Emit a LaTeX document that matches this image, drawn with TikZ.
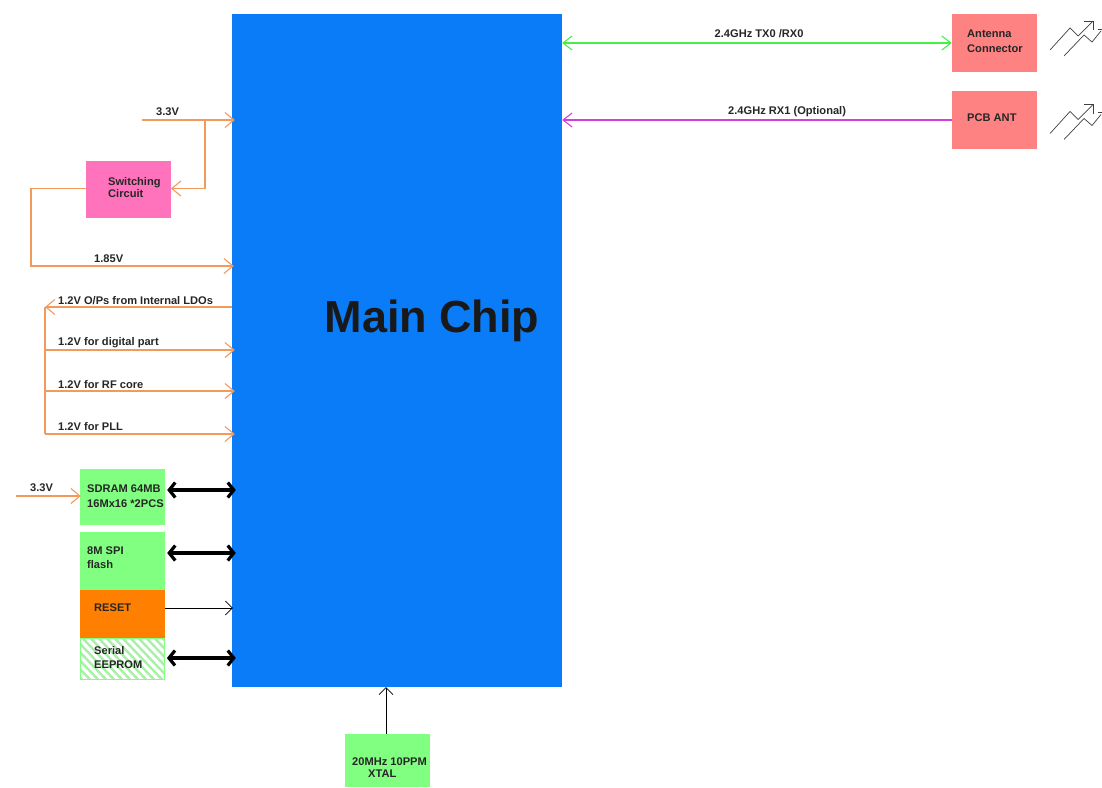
\documentclass[tikz,border=0pt]{standalone}
\usepackage{fontspec}
\setmainfont{Liberation Sans}
\usetikzlibrary{arrows.meta,calc}
\definecolor{chipblue}{HTML}{0A7CF8}
\definecolor{wireorange}{HTML}{F29A5C}
\definecolor{boxgreen}{HTML}{80FF80}
\definecolor{boxsalmon}{HTML}{FF8282}
\definecolor{boxpink}{HTML}{FF72BC}
\definecolor{boxorange}{HTML}{FF8000}
\definecolor{wiregreen}{HTML}{44F044}
\definecolor{wiremagenta}{HTML}{D23FE0}
\definecolor{hatchgreen}{HTML}{A8F0A8}
\tikzset{
  x=1pt,y=-1pt,
  lab/.style={inner sep=0pt,font=\fontsize{11.1}{12}\selectfont\bfseries,text=black!85,align=left,anchor=west},
  lab wide/.style={lab,font=\fontsize{11.1}{14.5}\selectfont\bfseries},
  wire/.style={draw=wireorange,line width=1.3pt},
  barb/.style={-{Straight Barb[length=9pt,width=15pt,line width=1.1pt]}},
  bus/.style={draw=black,line width=3.8pt,{Straight Barb[length=6pt,width=15pt,line width=3.2pt]}-{Straight Barb[length=6pt,width=15pt,line width=3.2pt]}},
  thin wire/.style={draw=black,line width=1pt,-{Straight Barb[length=7pt,width=14pt,line width=.7pt]}},
  radio/.style={wiregreen,line width=1.3pt},
}
\newcommand{\blockat}[6]{% name, x1, y1, x2, y2, fill
  \node[draw=none,fill=#6,inner sep=0pt,minimum width=#4pt-#2pt,minimum height=#5pt-#3pt] (#1) at ({(#2+#4)/2},{(#3+#5)/2}) {};
}
\begin{document}
\begin{tikzpicture}
\useasboundingbox (0,0) rectangle (1102,787);
% blocks
\blockat{main}{232}{14}{562}{687}{chipblue}
\blockat{antconn}{952}{14}{1037}{72}{boxsalmon}
\blockat{pcbant}{952}{91}{1037}{149}{boxsalmon}
\blockat{sw}{86}{161}{171}{218}{boxpink}
\blockat{sdram}{80}{469}{165}{525}{boxgreen}
\blockat{flash}{80}{532}{165}{590}{boxgreen}
\blockat{reset}{80}{590}{165}{638}{boxorange}
\node[draw=boxgreen,line width=.8pt,inner sep=0pt,minimum width=84pt,minimum height=41pt,
  path picture={\foreach \k in {-96,-88,...,60}{\draw[hatchgreen,line width=2.4pt] (\k,-21) -- (\k+40,21);}}] (eeprom) at (122.5,659) {};
\blockat{xtal}{345}{734}{430}{787}{boxgreen}
% free ends and junctions
\coordinate (vin) at (142,120);
\coordinate (vjoin) at (205,120);
\coordinate (swin) at (171,188.5);
\coordinate (swout) at (86,188.5);
\coordinate (lv) at (31,266);
\coordinate (ldo) at (45,307);
\coordinate (dig) at (45,350);
\coordinate (rf) at (45,391);
\coordinate (pll) at (45,434);
\coordinate (sdin) at (16,496);
\coordinate (rx) at (952,120);
% right side
\draw[radio,{Straight Barb[length=9pt,width=14pt,line width=1.1pt]}-{Straight Barb[length=9pt,width=14pt,line width=1.1pt]}] (main.east |- antconn.west) -- (antconn.west);
\draw[draw=wiremagenta,line width=1.3pt,-{Straight Barb[length=9pt,width=14pt,line width=1.1pt]}] (rx) -- (main.east |- rx);
% power wires
\draw[wire,barb] (vin) -- ([xshift=3pt]main.west |- vin);
\draw[wire,barb] (vjoin) |- (swin);
\draw[wire,barb] (swout) -| (lv) -- ([xshift=2pt]main.west |- lv);
\draw[wire,barb] (main.west |- ldo) -- (ldo);
\draw[wire] (ldo) -- (pll);
\draw[wire,barb] (dig) -- ([xshift=3pt]main.west |- dig);
\draw[wire,barb] (rf) -- ([xshift=3pt]main.west |- rf);
\draw[wire,barb] (pll) -- ([xshift=3pt]main.west |- pll);
\draw[wire,barb] (sdin) -- ([xshift=1pt]sdram.west |- sdin);
% buses
\draw[bus] ([xshift=2pt]sdram.east |- 0,490) -- ([xshift=4pt]main.west |- 0,490);
\draw[bus] ([xshift=2pt]flash.east |- 0,553) -- ([xshift=4pt]main.west |- 0,553);
\draw[bus] ([xshift=2pt]eeprom.east |- 0,658) -- ([xshift=4pt]main.west |- 0,658);
\draw[thin wire] (reset.east |- 0,608) -- ([xshift=1pt]main.west |- 0,608);
\draw[thin wire] (xtal.north -| 386,0) -- (main.south -| 386,0);
% antenna symbols
\foreach \dy in {0,83.5}{
  \begin{scope}[yshift=-\dy pt,draw=black!75,line width=.7pt]
    \draw (1050,50) -- (1070,28) -- (1078,36) -- (1093,21);
    \draw (1084,21) -- (1093,21) -- (1093,30);
    \draw (1064,56) -- (1084,35) -- (1092,42) -- (1101,31);
    \draw (1098,29) -- (1102,29);
  \end{scope}
}
% labels
\node[lab] (t1) at (714.5,34) {2.4GHz TX0 /RX0};
\node[lab] (t2) at (728,112) {2.4GHz RX1 (Optional)};
\node[lab wide] (t3) at (967,41) {Antenna\\Connector};
\node[lab] (t4) at (967,118) {PCB ANT};
\node[lab] (t5) at (156,112) {3.3V};
\node[lab] (t6) at (108,188) {Switching\\Circuit};
\node[lab] (t7) at (94,259) {1.85V};
\node[lab] (t8) at (58,301) {1.2V O/Ps from Internal LDOs};
\node[lab] (t9) at (58,343) {1.2V for digital part};
\node[lab] (t10) at (58,385) {1.2V for RF core};
\node[lab] (t11) at (58,427) {1.2V for PLL};
\node[lab] (t12) at (30,488) {3.3V};
\node[lab wide] (t13) at (87,496) {SDRAM 64MB\\16Mx16 *2PCS};
\node[lab wide] (t14) at (87,557.5) {8M SPI\\flash};
\node[lab] (t15) at (94,608) {RESET};
\node[lab wide] (t16) at (94,657.5) {Serial\\EEPROM};
\node[lab] (t17) at (352,767.5) {20MHz 10PPM\\\hspace*{16pt}XTAL};
\node[inner sep=0pt,font=\fontsize{45}{50}\selectfont\bfseries,text=black!90] (chipname) at (432,321) {Main Chip};
\end{tikzpicture}
\end{document}
